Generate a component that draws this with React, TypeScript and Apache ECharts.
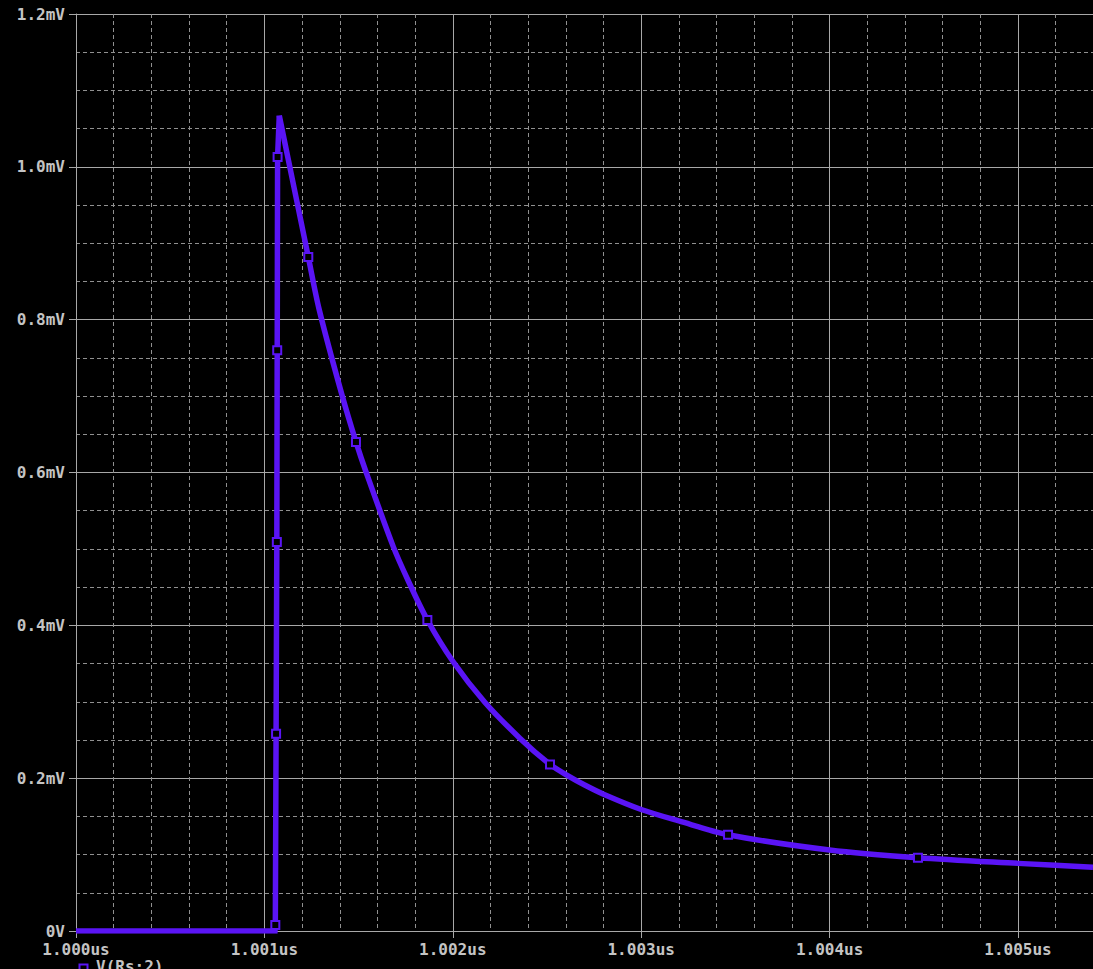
import React, { useEffect, useRef } from "react";
import * as echarts from "echarts";

// Trace V(Rs:2): time in microseconds, voltage in millivolts
// rising edge up to the peak
const riseTimeUs = [1.0, 1.001056, 1.001058, 1.001062, 1.001066, 1.001068, 1.00107, 1.001079];
const riseVoltMv = [0, 0, 0.008, 0.258, 0.509, 0.76, 1.013, 1.067];
// decay after the peak
const decayTimeUs = [
  1.001079, 1.001233, 1.001291, 1.00141, 1.001486, 1.001539, 1.001684, 1.001764,
  1.001865, 1.002, 1.002171, 1.002357, 1.002516, 1.002605, 1.0027, 1.0028,
  1.003, 1.0032, 1.003461, 1.004, 1.004469, 1.005, 1.005398,
];
const decayVoltMv = [
  1.067, 0.882, 0.813, 0.703, 0.64, 0.601, 0.503, 0.458,
  0.407, 0.353, 0.299, 0.252, 0.218, 0.204, 0.191, 0.179,
  0.159, 0.144, 0.126, 0.106, 0.0959, 0.0885, 0.0834,
];

// Symbol markers drawn on the trace
const markerTimeUs = [
  1.001058, 1.001062, 1.001066, 1.001068, 1.00107, 1.001233, 1.001486,
  1.001865, 1.002516, 1.003461, 1.004469,
];
const markerVoltMv = [
  0.008, 0.258, 0.509, 0.76, 1.013, 0.882, 0.64, 0.407, 0.218, 0.126, 0.0959,
];

const xTickValues = [1.0, 1.001, 1.002, 1.003, 1.004, 1.005];
const xTickLabels = ["1.000us", "1.001us", "1.002us", "1.003us", "1.004us", "1.005us"];
const yTickValues = [0, 0.2, 0.4, 0.6, 0.8, 1.0, 1.2];
const yTickLabels = ["0V", "0.2mV", "0.4mV", "0.6mV", "0.8mV", "1.0mV", "1.2mV"];

const traceName = "V(Rs:2)";
const TRACE = "#5a14f5";
const GRID = "#a8a8a8";
const MINOR = "#909090";
const TEXT = "#c4c4c4";
const FONT = "'DejaVu Sans Mono', 'Liberation Mono', monospace";

function labelFor(values: number[], labels: string[], v: number) {
  for (let i = 0; i < values.length; i++) {
    if (Math.abs(values[i] - v) < 1e-7) return labels[i];
  }
  return "";
}

export default function App() {
  const ref = useRef<HTMLDivElement>(null);
  useEffect(() => {
    if (!ref.current) return;
    const chart = echarts.init(ref.current, undefined, { renderer: "svg" });
    const riseData = riseTimeUs.map((t, i) => [t, riseVoltMv[i]]);
    const decayData = decayTimeUs.map((t, i) => [t, decayVoltMv[i]]);
    const markData = markerTimeUs.map((t, i) => [t, markerVoltMv[i]]);
    chart.setOption({
      animation: false,
      backgroundColor: "#000000",
      grid: {
        left: 76,
        top: 14,
        right: -113.4,
        bottom: 38,
        containLabel: false,
        outerBoundsMode: "none",
      },
      xAxis: {
        type: "value",
        min: 1.0,
        max: 1.006,
        interval: 0.001,
        axisLine: { show: true, onZero: false, lineStyle: { color: GRID, width: 1 } },
        axisTick: { show: true, length: 7, lineStyle: { color: GRID, width: 1 } },
        axisLabel: {
          color: TEXT,
          fontFamily: FONT,
          fontSize: 16,
          fontWeight: "bold",
          margin: 10,
          hideOverlap: false,
          formatter: (v: number) => labelFor(xTickValues, xTickLabels, v),
        },
        splitLine: { show: true, lineStyle: { color: GRID, width: 1 } },
        minorTick: { show: false, splitNumber: 5 },
        minorSplitLine: { show: true, lineStyle: { color: MINOR, width: 1, type: [4, 3] } },
      },
      yAxis: {
        type: "value",
        min: 0,
        max: 1.2,
        interval: 0.2,
        axisLine: { show: true, lineStyle: { color: GRID, width: 1 } },
        axisTick: { show: true, length: 7, lineStyle: { color: GRID, width: 1 } },
        axisLabel: {
          color: TEXT,
          fontFamily: FONT,
          fontSize: 16,
          fontWeight: "bold",
          margin: 11,
          formatter: (v: number) => labelFor(yTickValues, yTickLabels, v),
        },
        splitLine: { show: true, lineStyle: { color: GRID, width: 1 } },
        minorTick: { show: false, splitNumber: 4 },
        minorSplitLine: { show: true, lineStyle: { color: MINOR, width: 1, type: [4, 3] } },
      },
      series: [
        {
          name: traceName,
          type: "line",
          data: riseData,
          showSymbol: false,
          symbol: "none",
          lineStyle: { color: TRACE, width: 5.5, join: "miter", miterLimit: 20 },
          itemStyle: { color: TRACE },
          z: 3,
        },
        {
          name: traceName,
          type: "line",
          data: decayData,
          smooth: 0.3,
          showSymbol: false,
          symbol: "none",
          lineStyle: { color: TRACE, width: 5.5, join: "miter" },
          itemStyle: { color: TRACE },
          z: 3,
        },
        {
          name: traceName + " markers",
          type: "scatter",
          data: markData,
          symbol: "rect",
          symbolSize: 8,
          itemStyle: { color: "#000000", borderColor: TRACE, borderWidth: 2, opacity: 1 },
          z: 4,
        },
      ],
      graphic: [
        {
          type: "rect",
          left: 77,
          top: 962,
          shape: { width: 8, height: 8 },
          style: { fill: "none", stroke: TRACE, lineWidth: 2 },
        },
        {
          type: "text",
          left: 96,
          top: 958,
          style: { text: traceName, fill: TEXT, font: `bold 16px ${FONT}` },
        },
      ],
    });
    return () => chart.dispose();
  }, []);
  return (
    <div
      ref={ref}
      style={{ position: "fixed", left: 0, top: 0, width: 1093, height: 969, overflow: "hidden", background: "#000" }}
    />
  );
}
